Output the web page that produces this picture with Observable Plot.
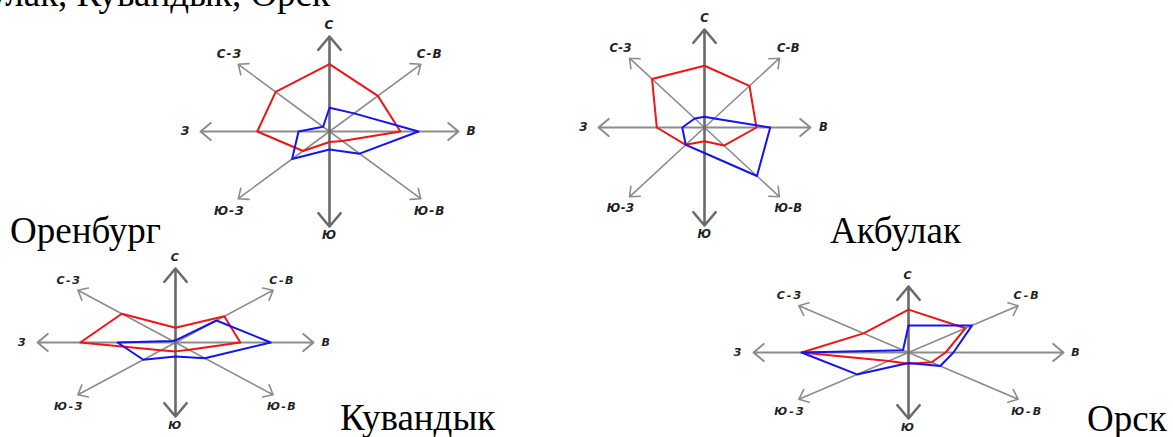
<!DOCTYPE html>
<html><head><meta charset="utf-8">
<script src="https://cdn.jsdelivr.net/npm/d3@7"></script>
<script src="https://cdn.jsdelivr.net/npm/@observablehq/plot@0.6"></script>
<style>
html,body{margin:0;padding:0;background:#fff;}
#root{position:relative;width:1173px;height:437px;overflow:hidden;background:#fff;}
.cap{position:absolute;font-family:"Liberation Serif","Times New Roman",serif;font-size:37px;line-height:1;white-space:nowrap;color:#000;}
.chart{position:absolute;}
</style></head><body><div id="root"></div>
<script>
// Wind directions (clockwise from north)
const directions = ["С", "С-В", "В", "Ю-В", "Ю", "Ю-З", "З", "С-З"];
const cityNames = ["Оренбург", "Акбулак", "Кувандык", "Орск"];
const headerText = "Акбулак, Кувандык, Орск";

// Relative wind frequency (share of axis length), red and blue series
const orenburgRed  = [0.71, 0.53, 0.55, 0.14, 0.11, 0.29, 0.56, 0.59];
const orenburgBlue = [0.25, 0.27, 0.69, 0.33, 0.19, 0.41, 0.24, 0.07];
const akbulakRed   = [0.63, 0.60, 0.49, 0.26, 0.14, 0.25, 0.45, 0.70];
const akbulakBlue  = [0.11, 0.13, 0.62, 0.70, 0.26, 0.25, 0.21, 0.13];
const kuvandykRed  = [0.20, 0.50, 0.47, 0.14, 0.12, 0.15, 0.69, 0.55];
const kuvandykBlue = [0.03, 0.42, 0.69, 0.30, 0.19, 0.33, 0.42, 0.03];
const orskRed      = [0.65, 0.52, 0.24, 0.21, 0.17, 0.18, 0.69, 0.41];
const orskBlue     = [0.41, 0.58, 0.29, 0.29, 0.16, 0.47, 0.69, 0.05];

const root = document.getElementById("root");

function angle(i) { return i * Math.PI / 4; }

function windRose(red, blue, cfg) {
  const {cx, cy, rx, ry, fontSize, spacing} = cfg;
  const mx = 50, my = 28;
  const axes = directions.map((dir, i) => ({dir, ux: Math.sin(angle(i)), uy: Math.cos(angle(i))}));
  const pts = (vals, series) => vals.map((v, i) => ({dir: directions[i], series, v,
    x: v * Math.sin(angle(i)), y: v * Math.cos(angle(i))}));
  const vertical = axes.filter(d => d.dir === "С" || d.dir === "Ю");
  const horizontal = axes.filter(d => d.dir === "В" || d.dir === "З");
  const diagonal = axes.filter(d => d.dir.length > 1);
  // label offsets in pixels converted to data units
  const off = d => {
    let ox = 0, oy = 0;
    if (d.dir === "С") oy = -11;
    else if (d.dir === "Ю") oy = 9;
    else if (d.dir === "В") ox = 13;
    else if (d.dir === "З") ox = -15;
    else { ox = Math.sign(d.ux) * 9; oy = d.uy > 0 ? -10 : 12; }
    return {x: d.ux + ox / rx, y: d.uy - oy / ry};
  };
  const arrowOpts = (stroke, sw) => ({x1: () => 0, y1: () => 0, x2: "ux", y2: "uy",
    stroke, strokeWidth: sw, headLength: 10, headAngle: 80});
  const svg = Plot.plot({
    width: 2 * rx + 2 * mx, height: 2 * ry + 2 * my,
    marginLeft: mx, marginRight: mx, marginTop: my, marginBottom: my,
    x: {domain: [-1, 1], axis: null},
    y: {domain: [-1, 1], axis: null},
    style: {overflow: "visible", background: "transparent", letterSpacing: spacing + "px"},
    marks: [
      Plot.arrow(diagonal, arrowOpts("#8c8c8c", 1.6)),
      Plot.arrow(horizontal, arrowOpts("#8c8c8c", 2)),
      Plot.arrow(vertical, arrowOpts("#6a6a6a", 2.6)),
      Plot.line(pts(red, "red"), {x: "x", y: "y", stroke: "#f01414", strokeWidth: 2, curve: "linear-closed"}),
      Plot.line(pts(blue, "blue"), {x: "x", y: "y", stroke: "#1414f0", strokeWidth: 2, curve: "linear-closed"}),
      Plot.text(axes, {x: d => off(d).x, y: d => off(d).y, text: "dir",
        fontSize, fontWeight: "bold", fontStyle: "italic", fontFamily: "DejaVu Sans, sans-serif", fill: "#222"})
    ]
  });
  svg.classList.add("chart");
  svg.style.left = (cx - rx - mx) + "px";
  svg.style.top = (cy - ry - my) + "px";
  root.appendChild(svg);
}

windRose(orenburgRed, orenburgBlue, {cx: 329, cy: 130.5, rx: 129, ry: 95, fontSize: 12, spacing: 1});
windRose(akbulakRed, akbulakBlue, {cx: 704, cy: 127, rx: 106, ry: 98, fontSize: 11.5, spacing: 0.3});
windRose(kuvandykRed, kuvandykBlue, {cx: 175, cy: 341.5, rx: 138, ry: 74, fontSize: 11, spacing: 1.5});
windRose(orskRed, orskBlue, {cx: 907.5, cy: 352, rx: 155, ry: 66, fontSize: 11, spacing: 2});

// captions (baseline ≈ top + 31px for 37px Liberation Serif, line-height 1)
function caption(text, left, baseline, alignRight) {
  const div = document.createElement("div");
  div.className = "cap";
  div.textContent = text;
  div.style.top = (baseline - 31) + "px";
  if (alignRight) div.style.right = (1173 - left) + "px"; else div.style.left = left + "px";
  root.appendChild(div);
}
caption(headerText, 330, 6, true);
caption(cityNames[0], 10, 243);
caption(cityNames[1], 830, 243);
caption(cityNames[2], 340, 430);
caption(cityNames[3], 1087, 431);
</script>
</body></html>
